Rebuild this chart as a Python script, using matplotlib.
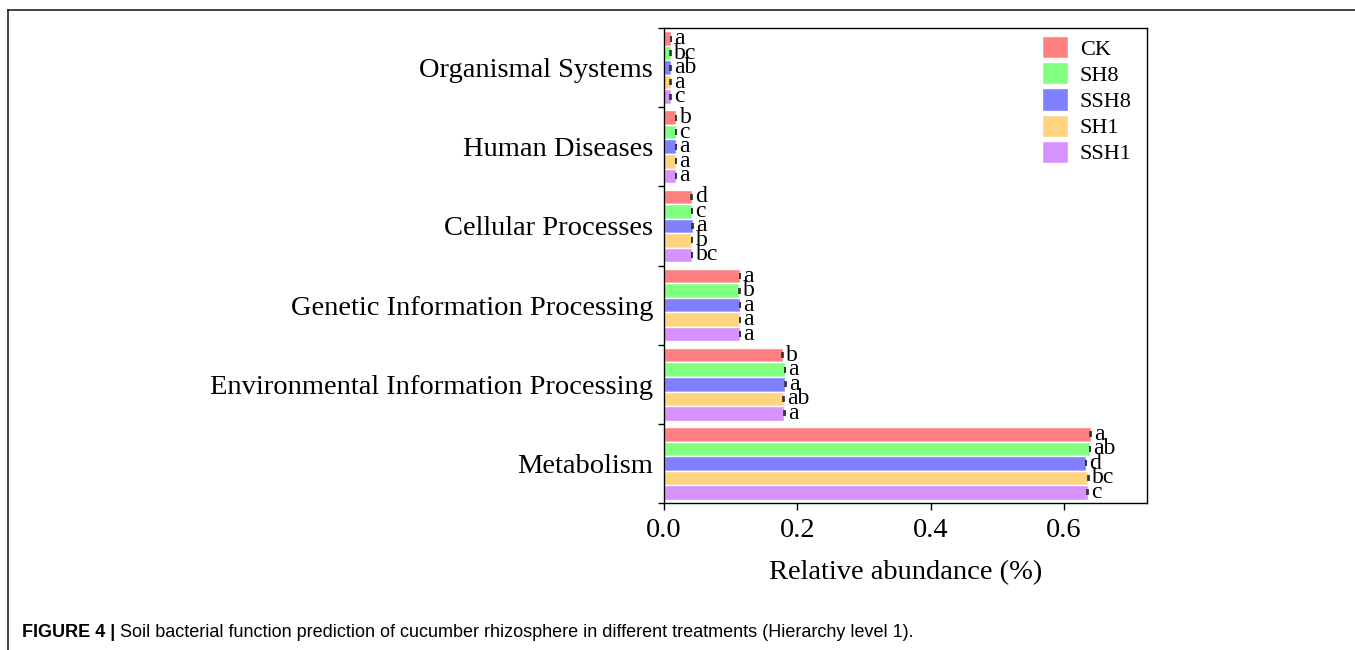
import matplotlib.pyplot as plt
from matplotlib.lines import Line2D
from matplotlib.patches import Patch

# categories from bottom to top
categories = ['Metabolism', 'Environmental Information Processing',
              'Genetic Information Processing', 'Cellular Processes',
              'Human Diseases', 'Organismal Systems']
treatments = ['CK', 'SH8', 'SSH8', 'SH1', 'SSH1']
colors = ['#FF8080', '#80FF80', '#8080FF', '#FFD480', '#D692FF']

ck = [0.640, 0.178, 0.114, 0.0415, 0.018, 0.0105]
sh8 = [0.639, 0.1815, 0.113, 0.042, 0.018, 0.010]
ssh8 = [0.633, 0.182, 0.114, 0.043, 0.018, 0.010]
sh1 = [0.6365, 0.1795, 0.114, 0.042, 0.018, 0.010]
ssh1 = [0.6355, 0.1805, 0.114, 0.042, 0.018, 0.010]
values = [ck, sh8, ssh8, sh1, ssh1]

ck_sig = ['a', 'b', 'a', 'd', 'b', 'a']
sh8_sig = ['ab', 'a', 'b', 'c', 'c', 'bc']
ssh8_sig = ['d', 'a', 'a', 'a', 'a', 'ab']
sh1_sig = ['bc', 'ab', 'a', 'b', 'a', 'a']
ssh1_sig = ['c', 'a', 'a', 'bc', 'a', 'c']
letters = [ck_sig, sh8_sig, ssh8_sig, sh1_sig, ssh1_sig]

serif = ['Liberation Serif', 'DejaVu Serif']
sans = ['Liberation Sans Narrow', 'Liberation Sans']

fig = plt.figure(figsize=(13.55, 6.5), dpi=100)
ax = fig.add_axes([664 / 1355, 1 - 503 / 650, (1146.7 - 664) / 1355, (503 - 28) / 650])

pitch = 0.1835
for j, (vals, sig) in enumerate(zip(values, letters)):
    ys = [i + (2 - j) * pitch for i in range(len(categories))]
    ax.barh(ys, vals, height=pitch, color=colors[j], edgecolor='white', linewidth=1, zorder=2)
    ax.errorbar(vals, ys, xerr=0.0004, fmt='none', ecolor='#333333',
                elinewidth=1, capsize=2.5, capthick=1.2, zorder=3)
    for x, y, s in zip(vals, ys, sig):
        ax.annotate(s, (x, y), xytext=(2.5, 0), textcoords='offset points',
                    va='center', ha='left', fontsize=17, family=serif)

ax.set_xlim(0, 0.724)
ax.set_ylim(-0.5, 5.5)
ax.set_xticks([0.0, 0.2, 0.4, 0.6])
ax.set_xticklabels(['0.0', '0.2', '0.4', '0.6'], fontsize=20.5, family=serif)
ax.set_yticks(range(len(categories)))
ax.set_yticklabels(categories, fontsize=20.5, family=serif)
ax.set_yticks([k - 0.5 for k in range(len(categories) + 1)], minor=True)
ax.tick_params(axis='y', which='major', length=0, pad=8)
ax.tick_params(axis='y', which='minor', length=4, direction='out', width=1)
ax.tick_params(axis='x', length=5, direction='out', width=1, pad=6)
ax.set_xlabel('Relative abundance (%)', fontsize=20.5, family=serif, labelpad=12)
for sp in ax.spines.values():
    sp.set_linewidth(1)

handles = [Patch(facecolor=c, edgecolor='white') for c in colors]
fig.legend(handles, treatments, loc='upper left',
           bbox_to_anchor=(1041.7 / 1355, 1 - 36 / 650), bbox_transform=fig.transFigure,
           frameon=False, borderpad=0, borderaxespad=0, handlelength=1.17,
           handleheight=1.15, labelspacing=0.12, handletextpad=0.55,
           prop={'family': serif, 'size': 16})

# figure frame lines
fig.add_artist(Line2D([8 / 1355, 1], [1 - 10 / 650, 1 - 10 / 650], color='#222222', lw=1.2))
fig.add_artist(Line2D([8 / 1355, 8 / 1355], [0, 1 - 10 / 650], color='#222222', lw=1.2))

# caption: bold part, then the rest placed right after it
cap_y = 1 - 637 / 650
t1 = fig.text(22 / 1355, cap_y, 'FIGURE 4 |', fontsize=13, fontweight='bold',
              family=sans, va='baseline')
fig.canvas.draw()
bb = t1.get_window_extent()
fig.text((bb.x1 + 5) / 1355, cap_y,
         'Soil bacterial function prediction of cucumber rhizosphere in different treatments (Hierarchy level 1).',
         fontsize=13, family=sans, va='baseline')

fig.savefig('out.png', dpi=100)
